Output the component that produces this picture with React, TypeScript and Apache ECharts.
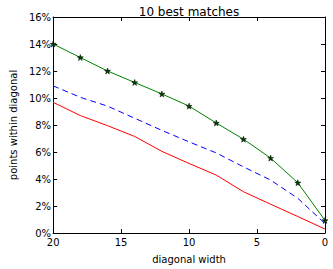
import React, { useEffect, useRef } from "react";
import * as echarts from "echarts";

const widths = [20, 18, 16, 14, 12, 10, 8, 6, 4, 2, 0];
const best10 = [14.0, 13.0, 12.0, 11.15, 10.3, 9.4, 8.15, 6.95, 5.55, 3.72, 0.93];
const dashed = [10.9, 10.05, 9.4, 8.5, 7.6, 6.75, 5.93, 4.9, 3.92, 2.57, 0.7];
const lower = [9.68, 8.7, 7.95, 7.15, 6.05, 5.15, 4.29, 3.06, 2.13, 1.22, 0.29];
const yTicks = [0, 2, 4, 6, 8, 10, 12, 14, 16];
const xTicks = [20, 15, 10, 5, 0];

const STAR =
  "path://M50,0 L61.8,35.1 L97.6,35.1 L68.8,56.8 L79.4,90.5 L50,69.7 L20.6,90.5 L31.2,56.8 L2.4,35.1 L38.2,35.1 Z";

const font = "DejaVu Sans";

export default function App() {
  const ref = useRef<HTMLDivElement>(null);
  useEffect(() => {
    if (!ref.current) return;
    const chart = echarts.init(ref.current, undefined, { renderer: "svg" });
    const pair = (ys: number[]) => widths.map((w, i) => [w, ys[i]]);
    const axisLine = { show: true, onZero: false, lineStyle: { color: "#000", width: 1 } };
    const tick = { show: true, inside: true, length: 4, lineStyle: { color: "#000" } };
    chart.setOption({
      animation: false,
      backgroundColor: "#fff",
      title: {
        text: "10 best matches",
        left: 184,
        textAlign: "center",
        top: 1,
        textStyle: { fontFamily: font, fontSize: 12, fontWeight: "normal", color: "#000" },
      },
      grid: { left: 44, right: 8, top: 17, bottom: 34 },
      xAxis: [
        {
          type: "value",
          inverse: true,
          min: 0,
          max: 20,
          interval: 5,
          name: "diagonal width",
          nameLocation: "middle",
          nameGap: 21,
          nameTextStyle: { fontFamily: font, fontSize: 10, color: "#000" },
          axisLine,
          axisTick: tick,
          splitLine: { show: false },
          axisLabel: { fontFamily: font, fontSize: 10, color: "#000", margin: 4, formatter: (v: number) => (xTicks.includes(v) ? String(v) : "") },
        },
        {
          type: "value",
          inverse: true,
          min: 0,
          max: 20,
          interval: 5,
          position: "top",
          axisLine,
          axisTick: tick,
          splitLine: { show: false },
          axisLabel: { show: false },
        },
      ],
      yAxis: [
        {
          type: "value",
          min: 0,
          max: 16,
          interval: 2,
          name: "points within diagonal",
          nameLocation: "middle",
          nameGap: 31,
          nameTextStyle: { fontFamily: font, fontSize: 10, color: "#000" },
          axisLine,
          axisTick: tick,
          splitLine: { show: false },
          axisLabel: { fontFamily: font, fontSize: 10, color: "#000", margin: 2, formatter: (v: number) => (yTicks.includes(v) ? v + "%" : "") },
        },
        {
          type: "value",
          min: 0,
          max: 16,
          interval: 2,
          position: "right",
          axisLine,
          axisTick: tick,
          splitLine: { show: false },
          axisLabel: { show: false },
        },
      ],
      series: [
        {
          type: "line",
          data: pair(lower),
          symbol: "none",
          lineStyle: { color: "#ff0000", width: 1 },
          itemStyle: { color: "#ff0000" },
        },
        {
          type: "line",
          data: pair(dashed),
          symbol: "none",
          lineStyle: { color: "#0000ff", width: 1, type: [6, 4] },
          itemStyle: { color: "#0000ff" },
        },
        {
          type: "line",
          data: pair(best10),
          symbol: STAR,
          symbolSize: 6,
          lineStyle: { color: "#008000", width: 1 },
          itemStyle: { color: "#004000", borderColor: "#000", borderWidth: 0.5 },
        },
      ],
    });
    return () => chart.dispose();
  }, []);
  return <div ref={ref} style={{ width: 333, height: 269, position: "absolute", left: 0, top: 0 }} />;
}
